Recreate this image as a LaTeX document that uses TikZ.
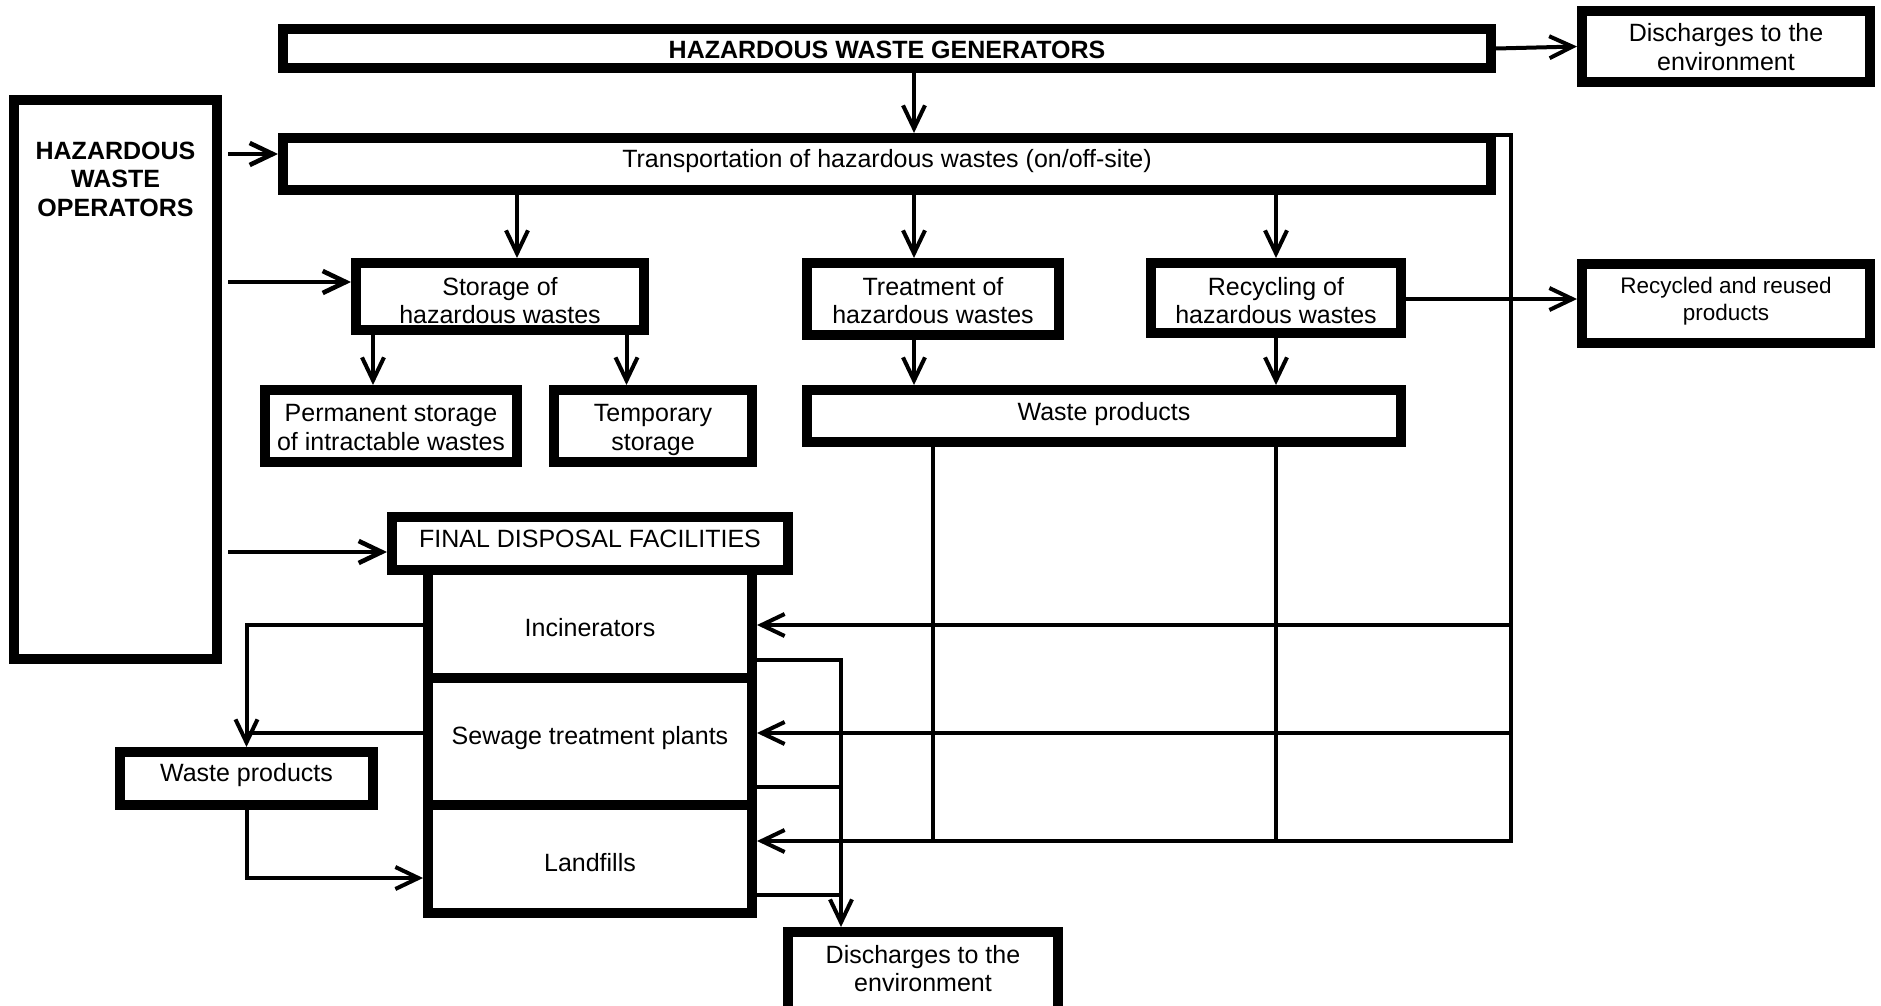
\documentclass[tikz,border=0pt]{standalone}
\usepackage{fontspec}
\setmainfont{Liberation Sans}
\usetikzlibrary{arrows.meta}
\begin{document}
\begin{tikzpicture}[x=1pt,y=-1pt,
  box/.style={draw, line width=10pt, inner sep=0pt, fill=white},
  txt/.style={inner sep=0pt, align=center, yshift=-3pt, font=\fontsize{25}{28.5}\selectfont},
  txtb/.style={inner sep=0pt, align=center, yshift=-3pt, font=\fontsize{25}{28.5}\selectfont\bfseries},
  txts/.style={inner sep=0pt, align=center, yshift=-3pt, font=\fontsize{22.5}{27}\selectfont},
  line/.style={line width=4pt},
  arr/.style={line width=4pt, -{Straight Barb[length=23pt,width=22pt]}},
  oparr/.style={arr, line width=4.6pt, shorten <=6pt}
]
\useasboundingbox (0,0) rectangle (1881,1006);
\clip (0,0) rectangle (1881,1006);
\fill[white] (0,0) rectangle (1881,1006);

% boxes
\node[box, minimum width=1208pt, minimum height=39pt] (gen) at (887,48.5) {};
\node[box, minimum width=288pt, minimum height=71pt] (dischTop) at (1726,46.5) {};
\node[box, minimum width=1208pt, minimum height=52pt] (trans) at (887,164) {};
\node[box, minimum width=203pt, minimum height=559pt] (ops) at (115.5,379.5) {};
\node[box, minimum width=288pt, minimum height=67pt] (stor) at (500,296.5) {};
\node[box, minimum width=252pt, minimum height=72pt] (perm) at (391,426) {};
\node[box, minimum width=198pt, minimum height=72pt] (temp) at (653,426) {};
\node[box, minimum width=252pt, minimum height=72pt] (treat) at (933,299) {};
\node[box, minimum width=250pt, minimum height=70pt] (recyc) at (1276,298) {};
\node[box, minimum width=288pt, minimum height=79pt] (recProd) at (1726,303.5) {};
\node[box, minimum width=594pt, minimum height=52pt] (wpM) at (1104,416) {};
\node[box, minimum width=324pt, minimum height=108pt] (inc) at (590,624) {};
\node[box, minimum width=324pt, minimum height=127pt] (sew) at (590,741.5) {};
\node[box, minimum width=324pt, minimum height=108pt] (land) at (590,859) {};
\node[box, minimum width=396pt, minimum height=53pt] (fdf) at (590,543.5) {};
\node[box, minimum width=253pt, minimum height=53pt] (wpL) at (246.5,778.5) {};
\node[box, minimum width=270pt, minimum height=93pt] (dischBot) at (923,978.5) {};

% texts
\node[txtb] (t-gen) at (887,50) {\strut HAZARDOUS WASTE GENERATORS};
\node[txt] (t-dischTop) at (1726,47.5) {\strut Discharges to the\\\strut environment};
\node[txt] (t-trans) at (887,158.5) {\strut Transportation of hazardous wastes (on/off-site)};
\node[txtb] (t-ops) at (115.5,179) {\strut HAZARDOUS\\\strut WASTE\\\strut OPERATORS};
\node[txt] (t-stor) at (500,301) {\strut Storage of\\\strut hazardous wastes};
\node[txt] (t-perm) at (391,427.5) {\strut Permanent storage\\\strut of intractable wastes};
\node[txt] (t-temp) at (653,427.5) {\strut Temporary\\\strut storage};
\node[txt] (t-treat) at (933,301) {\strut Treatment of\\\strut hazardous wastes};
\node[txt] (t-recyc) at (1276,301) {\strut Recycling of\\\strut hazardous wastes};
\node[txts] (t-recProd) at (1726,298.5) {\strut Recycled and reused\\\strut products};
\node[txt] (t-wpM) at (1104,412) {\strut Waste products};
\node[txt] (t-fdf) at (590,539) {\strut FINAL DISPOSAL FACILITIES};
\node[txt] (t-inc) at (590,628) {\strut Incinerators};
\node[txt] (t-sew) at (590,736) {\strut Sewage treatment plants};
\node[txt] (t-land) at (590,863) {\strut Landfills};
\node[txt] (t-wpL) at (246.5,773) {\strut Waste products};
\node[txt] (t-dischBot) at (923,969) {\strut Discharges to the\\\strut environment};

% helper coordinates
\coordinate (cA) at (914,0);
\coordinate (cS) at (517,0);
\coordinate (cP) at (373,0);
\coordinate (cT) at (626.5,0);
\coordinate (cR) at (1276,0);
\coordinate (cV) at (932.5,0);
\coordinate (vR) at (1511,135);
\coordinate (vD) at (841,0);
\coordinate (yOp1) at (0,154);
\coordinate (yOp2) at (0,282);
\coordinate (yOp3) at (0,552);
\coordinate (yRec) at (0,299);
\coordinate (h1) at (0,625);
\coordinate (h2) at (0,733);
\coordinate (h3) at (0,841);
\coordinate (d1) at (0,660);
\coordinate (d2) at (0,787);
\coordinate (d3) at (0,895);
\coordinate (yW) at (0,878);

% connectors
\draw[arr] (gen.east) -- (dischTop.west);
\draw[arr] (gen.south -| cA) -- (trans.north -| cA);
\draw[oparr] (ops.east |- yOp1) -- (trans.west |- yOp1);
\draw[oparr] (ops.east |- yOp2) -- (stor.west |- yOp2);
\draw[oparr] (ops.east |- yOp3) -- (fdf.west |- yOp3);
\draw[arr] (trans.south -| cS) -- (stor.north -| cS);
\draw[arr] (trans.south -| cA) -- (treat.north -| cA);
\draw[arr] (trans.south -| cR) -- (recyc.north -| cR);
\draw[arr] (stor.south -| cP) -- (perm.north -| cP);
\draw[arr] (stor.south -| cT) -- (temp.north -| cT);
\draw[arr] (treat.south -| cA) -- (wpM.north -| cA);
\draw[arr] (recyc.south -| cR) -- (wpM.north -| cR);
\draw[arr] (recyc.east |- yRec) -- (recProd.west |- yRec);
\draw[arr] ([yshift=-2pt]trans.north east) -- (vR) |- (land.east |- h3);
\draw[arr] (vR |- h1) -- (inc.east |- h1);
\draw[arr] (vR |- h2) -- (sew.east |- h2);
\draw[line] (wpM.south -| cV) -- (cV |- h3);
\draw[line] (wpM.south -| cR) -- (cR |- h3);
\draw[arr] (inc.west |- h1) -| (wpL.north);
\draw[line] (sew.west |- h2) -- (wpL.north |- h2);
\draw[arr] (wpL.south) |- (land.west |- yW);
\draw[arr] (inc.east |- d1) -| (vD |- dischBot.north);
\draw[line] (sew.east |- d2) -- (vD |- d2);
\draw[line] (land.east |- d3) -- (vD |- d3);
\end{tikzpicture}
\end{document}
